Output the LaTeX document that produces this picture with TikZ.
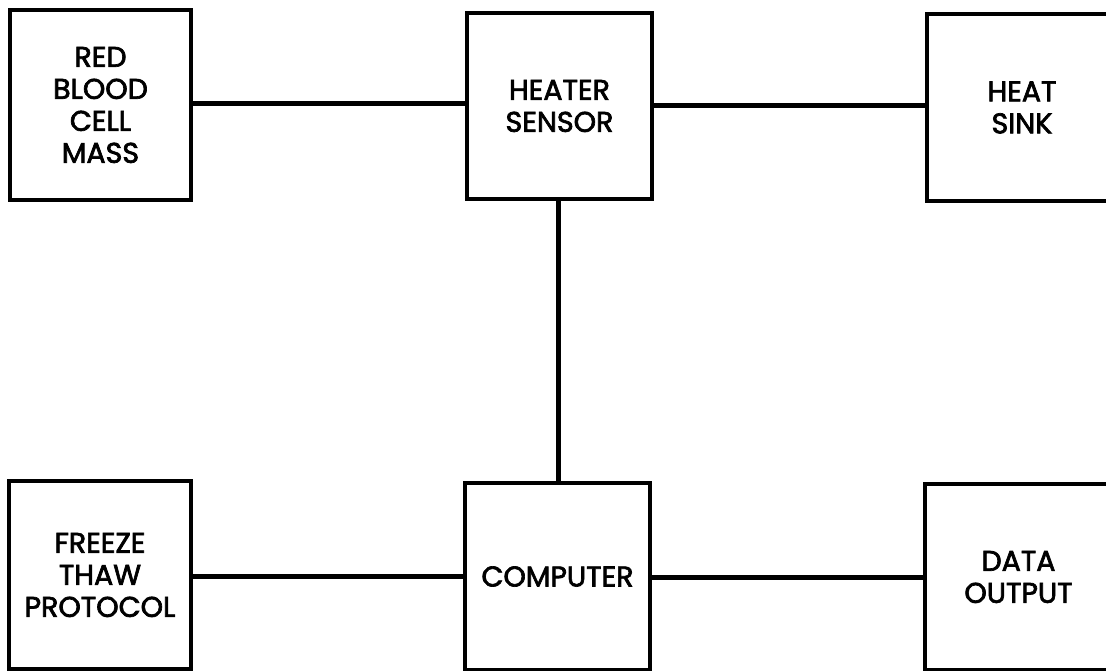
\documentclass[tikz,border=0pt]{standalone}
\usepackage{fontspec}
\setmainfont{Poppins}
\newfontface\lblfont{Poppins}[FakeBold=2.4]
\begin{document}
\begin{tikzpicture}[x=1pt,y=-1pt,
  blk/.style={draw=black, line width=4.5pt, align=center, inner sep=0pt,
    font=\lblfont\fontsize{28.5}{32}\selectfont},
  conn/.style={draw=black, line width=5pt}]
\useasboundingbox (0,0) rectangle (1106,671);
\fill[white] (0,0) rectangle (1106,671);
\node[blk, minimum width=181pt, minimum height=190pt] (rbc) at (100.5,105) {RED\\BLOOD\\CELL\\MASS};
\node[blk, minimum width=185pt, minimum height=186pt] (hs) at (559.5,106) {HEATER\\SENSOR};
\node[blk, minimum width=190pt, minimum height=187pt] (sink) at (1022,107.5) {HEAT\\SINK};
\node[blk, minimum width=182pt, minimum height=188pt] (ftp) at (100,575) {FREEZE\\THAW\\PROTOCOL};
\node[blk, minimum width=185pt, minimum height=187pt] (comp) at (557.5,576.5) {COMPUTER};
\node[blk, minimum width=187pt, minimum height=186pt] (out) at (1018.5,577) {DATA\\OUTPUT};
\draw[conn] (rbc.east |- 0,104) -- (hs.west |- 0,104);
\draw[conn] (hs.east |- 0,106) -- (sink.west |- 0,106);
\draw[conn] (hs.south -| 558,0) -- (comp.north -| 558,0);
\draw[conn] (ftp.east |- 0,576) -- (comp.west |- 0,576);
\draw[conn] (comp.east |- 0,577) -- (out.west |- 0,577);
\end{tikzpicture}
\end{document}
